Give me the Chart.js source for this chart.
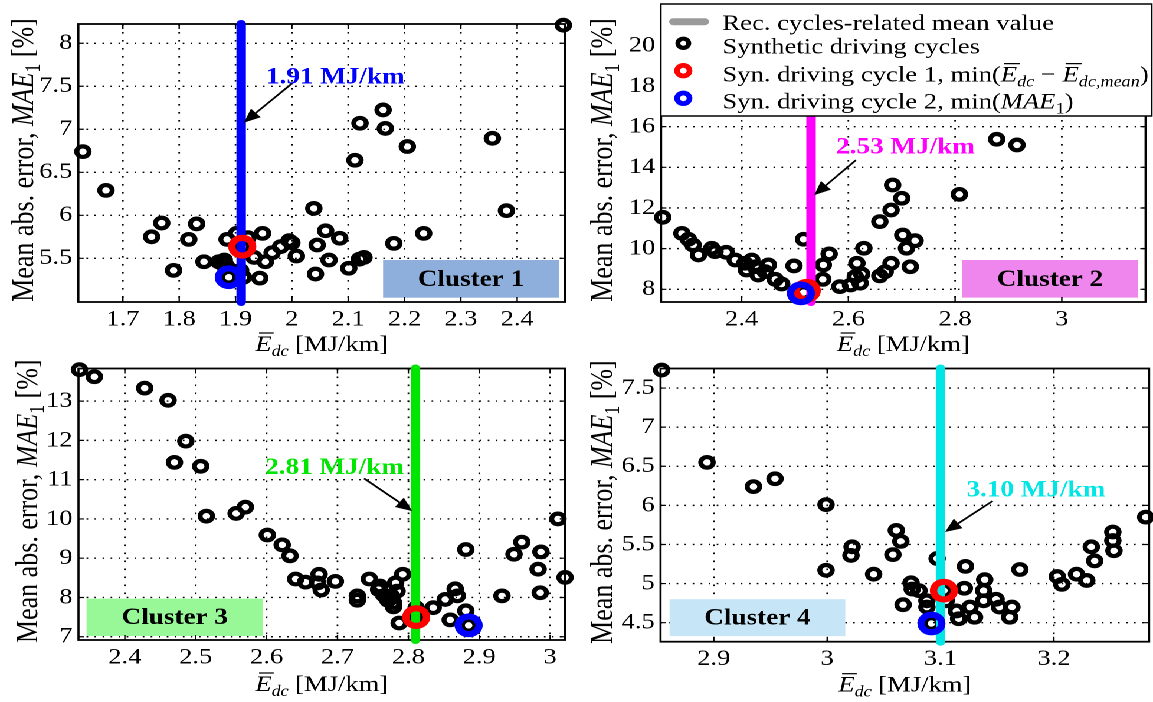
<!DOCTYPE html>
<html><head><meta charset="utf-8">
<script src="https://cdn.jsdelivr.net/npm/chart.js@4.4.0/dist/chart.umd.min.js"></script>
<style>
html,body{margin:0;padding:0;background:#fff;overflow:hidden;width:1153px;height:702px;}
#wrap{position:absolute;left:0;top:0;width:977px;height:702px;transform:scaleX(1.18014);transform-origin:0 0;}
canvas{position:absolute;}
</style></head><body>
<div id="wrap">
<canvas id="c3" width="490" height="352" style="left:0px;top:350px;width:490px;height:352px"></canvas>
<canvas id="c4" width="487" height="352" style="left:490px;top:350px;width:487px;height:352px"></canvas>
<canvas id="c1" width="490" height="362" style="left:0px;top:0px;width:490px;height:362px"></canvas>
<canvas id="c2" width="487" height="362" style="left:490px;top:0px;width:487px;height:362px"></canvas>
</div>
<script>
// ---------------- DATA ----------------
// Cluster 1
const c1X = [1.629,1.670,1.751,1.769,1.790,1.817,1.831,1.844,1.870,1.876,1.880,1.884,1.885,1.888,1.902,1.909,1.912,1.914,1.922,1.933,1.943,1.948,1.953,1.965,1.980,1.995,2.000,2.008,2.039,2.042,2.045,2.060,2.066,2.085,2.101,2.112,2.121,2.120,2.128,2.162,2.166,2.181,2.205,2.234,2.356,2.381,2.482];
const c1Y = [6.74,6.29,5.75,5.91,5.36,5.72,5.90,5.46,5.46,5.44,5.48,5.41,5.72,5.28,5.79,5.36,5.635,5.28,5.74,5.51,5.27,5.79,5.46,5.565,5.635,5.705,5.68,5.527,6.08,5.317,5.655,5.82,5.48,5.733,5.384,6.64,7.07,5.49,5.51,7.225,7.01,5.674,6.80,5.79,6.895,6.054,8.21];
const c1DevX = [1.912], c1DevY = [5.635];
const c1MaeX = [1.888], c1MaeY = [5.28];
const c1Mean = 1.91;
const c1XTicks = [1.7,1.8,1.9,2,2.1,2.2,2.3,2.4];
const c1YTicks = [5.5,6,6.5,7,7.5,8];

// Cluster 2
const c2X = [2.252,2.288,2.300,2.309,2.319,2.344,2.350,2.371,2.388,2.406,2.409,2.419,2.425,2.431,2.444,2.450,2.463,2.475,2.498,2.516,2.516,2.552,2.553,2.564,2.584,2.604,2.613,2.616,2.622,2.625,2.629,2.659,2.669,2.680,2.659,2.680,2.683,2.700,2.702,2.709,2.716,2.725,2.808,2.878,2.916];
const c2Y = [11.54,10.75,10.46,10.18,9.69,10.02,9.85,9.82,9.44,9.28,8.95,9.44,9.11,8.70,8.87,9.20,8.49,8.26,9.15,10.46,7.84,8.49,9.20,9.74,8.13,8.21,8.62,9.28,8.30,8.75,10.02,8.66,8.87,9.28,11.33,11.90,13.13,12.48,10.67,10.02,9.11,10.39,12.67,15.38,15.10];
const c2DevX = [2.522], c2DevY = [7.93];
const c2MaeX = [2.511], c2MaeY = [7.80];
const c2Mean = 2.53;
const c2XTicks = [2.4,2.6,2.8,3];
const c2YTicks = [8,10,12,14,16,18,20];

// Cluster 3
const c3X = [2.336,2.357,2.428,2.461,2.486,2.470,2.507,2.515,2.557,2.570,2.601,2.622,2.633,2.641,2.655,2.672,2.674,2.677,2.697,2.728,2.728,2.745,2.758,2.760,2.766,2.771,2.776,2.779,2.779,2.782,2.784,2.792,2.787,2.811,2.811,2.835,2.852,2.859,2.866,2.869,2.881,2.881,2.885,2.932,2.949,2.960,2.983,2.987,2.986,3.011,3.021];
const c3Y = [13.80,13.62,13.33,13.02,11.98,11.44,11.34,10.07,10.14,10.30,9.59,9.34,9.06,8.47,8.39,8.37,8.59,8.19,8.41,8.04,7.93,8.47,8.20,8.29,8.05,7.93,8.04,7.87,7.76,8.37,8.16,8.59,7.35,7.74,7.50,7.74,7.95,7.43,8.22,8.04,9.22,7.66,7.29,8.04,9.10,9.41,8.72,9.16,8.12,10.00,8.51];
const c3DevX = [2.811], c3DevY = [7.50];
const c3MaeX = [2.885], c3MaeY = [7.29];
const c3Mean = 2.81;
const c3XTicks = [2.4,2.5,2.6,2.7,2.8,2.9,3];
const c3YTicks = [7,8,9,10,11,12,13];

// Cluster 4
const c4X = [2.854,2.894,2.935,2.954,2.999,2.999,3.022,3.021,3.041,3.058,3.061,3.065,3.067,3.074,3.075,3.081,3.088,3.088,3.097,3.103,3.105,3.114,3.116,3.121,3.122,3.126,3.130,3.139,3.138,3.138,3.149,3.152,3.163,3.161,3.170,3.203,3.207,3.220,3.229,3.233,3.236,3.252,3.252,3.253,3.281,3.092];
const c4Y = [7.73,6.55,6.24,6.34,6.01,5.17,5.47,5.36,5.12,5.37,5.68,5.54,4.73,5.01,4.93,4.91,4.78,4.70,5.32,4.91,4.78,4.65,4.55,4.94,5.22,4.70,4.57,5.05,4.91,4.78,4.80,4.70,4.70,4.57,5.18,5.09,4.99,5.12,5.04,5.47,5.29,5.66,5.55,5.42,5.85,4.49];
const c4DevX = [3.103], c4DevY = [4.91];
const c4MaeX = [3.092], c4MaeY = [4.49];
const c4Mean = 3.10;
const c4XTicks = [2.9,3,3.1,3.2];
const c4YTicks = [4.5,5,5.5,6,6.5,7,7.5];

// ---------------- HELPERS ----------------
const FONT = '"Liberation Serif", "Times New Roman", serif';
Chart.defaults.font.family = FONT;
const pts = (xs, ys) => xs.map((x, i) => ({x: x, y: ys[i]}));
const fmt = v => String(+(+v).toFixed(2));

function segFont(s, size) {
  const sz = s.sub ? size * 0.68 : size;
  return (s.it ? 'italic ' : '') + (s.b ? 'bold ' : '') + sz + 'px ' + FONT;
}
function richWidth(ctx, segs, size) {
  let w = 0;
  for (const s of segs) { ctx.font = segFont(s, size); w += ctx.measureText(s.t).width; }
  return w;
}
function drawRich(ctx, segs, x, y, size) {
  let cx = x;
  ctx.textAlign = 'left'; ctx.textBaseline = 'alphabetic';
  for (const s of segs) {
    ctx.font = segFont(s, size);
    const w = ctx.measureText(s.t).width;
    const dy = s.sub ? size * 0.22 : 0;
    ctx.fillText(s.t, cx, y + dy);
    if (s.over) {
      ctx.beginPath(); ctx.lineWidth = size * 0.055;
      ctx.moveTo(cx + size * 0.14, y - size * 0.80);
      ctx.lineTo(cx + w + size * 0.08, y - size * 0.80);
      ctx.stroke();
    }
    cx += w;
  }
}
const xTitle = [{t:'E', it:1, over:1}, {t:'dc', it:1, sub:1}, {t:' [MJ/km]'}];
const yTitle = [{t:'Mean abs. error, '}, {t:'MAE', it:1}, {t:'1', sub:1}, {t:' [%]'}];
const legendRows = [
  [{t:'Rec. cycles-related mean value'}],
  [{t:'Synthetic driving cycles'}],
  [{t:'Syn. driving cycle 1, min('}, {t:'E', it:1, over:1}, {t:'dc', it:1, sub:1}, {t:' \u2212 '}, {t:'E', it:1, over:1}, {t:'dc,mean', it:1, sub:1}, {t:')'}],
  [{t:'Syn. driving cycle 2, min('}, {t:'MAE', it:1}, {t:'1', sub:1}, {t:')'}]
];

function ring(ctx, x, y, r, lw, color) {
  ctx.beginPath(); ctx.arc(x, y, r, 0, Math.PI * 2);
  ctx.lineWidth = lw; ctx.strokeStyle = color; ctx.stroke();
}

function decor(p) {
  return {
    id: 'decor',
    beforeDatasetsDraw(chart) {
      const ctx = chart.ctx, a = chart.chartArea, xs = chart.scales.x, ys = chart.scales.y;
      ctx.save();
      ctx.strokeStyle = '#000'; ctx.lineWidth = 1.4;
      ctx.setLineDash([1.6, 6.4]);
      for (const v of p.xTicks) {
        const px = xs.getPixelForValue(v);
        ctx.beginPath(); ctx.moveTo(px, a.top); ctx.lineTo(px, a.bottom); ctx.stroke();
      }
      ctx.setLineDash([1.4, 5.4]);
      for (const v of p.yTicks) {
        const py = ys.getPixelForValue(v);
        ctx.beginPath(); ctx.moveTo(a.left, py); ctx.lineTo(a.right, py); ctx.stroke();
      }
      ctx.setLineDash([]);
      // cluster box
      const bx0 = xs.getPixelForValue(p.box[0]), bx1 = xs.getPixelForValue(p.box[1]);
      const by0 = ys.getPixelForValue(p.box[3]), by1 = ys.getPixelForValue(p.box[2]);
      ctx.fillStyle = p.boxColor; ctx.fillRect(bx0, by0, bx1 - bx0, by1 - by0);
      ctx.fillStyle = '#000'; ctx.font = 'bold 23px ' + FONT;
      ctx.textAlign = 'center'; ctx.textBaseline = 'middle';
      ctx.fillText(p.cluster, (bx0 + bx1) / 2, (by0 + by1) / 2 + 1);
      // axes box + inward ticks
      ctx.strokeStyle = '#000'; ctx.lineWidth = 1.8;
      ctx.strokeRect(a.left, a.top, a.right - a.left, a.bottom - a.top);
      ctx.lineWidth = 1.2; ctx.beginPath();
      for (const v of p.xTicks) {
        const px = xs.getPixelForValue(v);
        ctx.moveTo(px, a.bottom); ctx.lineTo(px, a.bottom - 5);
        ctx.moveTo(px, a.top); ctx.lineTo(px, a.top + 5);
      }
      for (const v of p.yTicks) {
        const py = ys.getPixelForValue(v);
        ctx.moveTo(a.left, py); ctx.lineTo(a.left + 4.5, py);
        ctx.moveTo(a.right, py); ctx.lineTo(a.right - 4.5, py);
      }
      ctx.stroke();
      ctx.restore();
    },
    afterDatasetsDraw(chart) {
      const ctx = chart.ctx, xs = chart.scales.x, ys = chart.scales.y;
      ctx.save();
      const tx = xs.getPixelForValue(p.arrowFrom[0]), ty = ys.getPixelForValue(p.arrowFrom[1]);
      const hx = xs.getPixelForValue(p.arrowTo[0]), hy = ys.getPixelForValue(p.arrowTo[1]);
      const ang = Math.atan2(hy - ty, hx - tx), L = 14, W = 6;
      const bx = hx - L * Math.cos(ang), by = hy - L * Math.sin(ang);
      ctx.strokeStyle = '#000'; ctx.fillStyle = '#000'; ctx.lineWidth = 1.7;
      ctx.beginPath(); ctx.moveTo(tx, ty); ctx.lineTo(bx, by); ctx.stroke();
      ctx.beginPath(); ctx.moveTo(hx, hy);
      ctx.lineTo(bx - W * Math.sin(ang), by + W * Math.cos(ang));
      ctx.lineTo(bx + W * Math.sin(ang), by - W * Math.cos(ang));
      ctx.closePath(); ctx.fill();
      ctx.fillStyle = p.color; ctx.font = 'bold 23px ' + FONT;
      ctx.textAlign = 'left'; ctx.textBaseline = 'middle';
      ctx.fillText(p.anno, xs.getPixelForValue(p.textAt[0]), ys.getPixelForValue(p.textAt[1]));
      ctx.restore();
    },
    afterDraw(chart) {
      const ctx = chart.ctx, a = chart.chartArea;
      ctx.save();
      ctx.fillStyle = '#000'; ctx.strokeStyle = '#000';
      // x title
      const wx = richWidth(ctx, xTitle, 22.5);
      drawRich(ctx, xTitle, (a.left + a.right) / 2 - wx / 2, a.bottom + p.xTitleDy, 22.5);
      // y title
      const wy = richWidth(ctx, yTitle, 26);
      ctx.translate(a.left - p.yTitleDx, (a.top + a.bottom) / 2 - 3);
      ctx.rotate(-Math.PI / 2);
      drawRich(ctx, yTitle, -wy / 2, 0, 26);
      ctx.restore();
      if (p.legend) {
        ctx.save();
        ctx.fillStyle = '#fff'; ctx.fillRect(69.9, 4, 416, 112);
        ctx.strokeStyle = '#000'; ctx.lineWidth = 1.5; ctx.strokeRect(69.9, 4, 416, 112);
        ctx.strokeStyle = '#9a9a9a'; ctx.lineWidth = 7; ctx.lineCap = 'round';
        ctx.beginPath(); ctx.moveTo(80.5, 21.7); ctx.lineTo(107.3, 21.7); ctx.stroke();
        ring(ctx, 89, 43.3, 4.6, 4.2, '#000');
        ring(ctx, 89, 70.7, 5.3, 4.8, '#ff0000');
        ring(ctx, 89, 98.3, 5.3, 4.8, '#0000ff');
        ctx.fillStyle = '#000'; ctx.strokeStyle = '#000';
        const base = [30, 53.3, 81.7, 108.3];
        legendRows.forEach((r, i) => drawRich(ctx, r, 122.1, base[i], 22.6));
        ctx.restore();
      }
    }
  };
}

function makeChart(p) {
  return new Chart(document.getElementById(p.id), {
    type: 'scatter',
    data: { datasets: [
      {data: pts(p.maeX, p.maeY), pointRadius: 8.8, pointHoverRadius: 8.8, borderWidth: 6.2, pointBorderColor: '#0000ff', borderColor: '#0000ff', backgroundColor: 'rgba(0,0,0,0)', clip: false},
      {data: pts(p.devX, p.devY), pointRadius: 8.8, pointHoverRadius: 8.8, borderWidth: 6.2, pointBorderColor: '#ff0000', borderColor: '#ff0000', backgroundColor: 'rgba(0,0,0,0)', clip: false},
      {type: 'line', data: [{x: p.mean, y: p.yMin}, {x: p.mean, y: p.yMax}], borderColor: p.color, borderWidth: 8, pointRadius: 0, borderCapStyle: 'round', tension: 0, clip: false, fill: false},
      {data: pts(p.xs, p.ys), pointRadius: 5.3, pointHoverRadius: 5.3, borderWidth: 4.2, pointBorderColor: '#000', borderColor: '#000', backgroundColor: 'rgba(0,0,0,0)', clip: false}
    ]},
    options: {
      responsive: false, animation: false, devicePixelRatio: 2, events: [],
      layout: {autoPadding: false, padding: {left: 0, top: p.padTop, right: p.padRight, bottom: 0}},
      plugins: {legend: {display: false}, tooltip: {enabled: false}},
      scales: {
        x: {type: 'linear', min: p.xMin, max: p.xMax,
            grid: {display: false, drawTicks: false}, border: {display: false},
            ticks: {color: '#000', font: {size: 22.5, family: FONT}, padding: 4, autoSkip: false, maxRotation: 0, callback: fmt},
            afterBuildTicks: s => { s.ticks = p.xTicks.map(v => ({value: v})); },
            afterFit: s => { s.height = p.xH; }},
        y: {type: 'linear', min: p.yMin, max: p.yMax,
            grid: {display: false, drawTicks: false}, border: {display: false},
            ticks: {color: '#000', font: {size: 22.5, family: FONT}, padding: 5, autoSkip: false, callback: fmt},
            afterBuildTicks: s => { s.ticks = p.yTicks.map(v => ({value: v})); },
            afterFit: s => { s.width = p.yW; }}
      }
    },
    plugins: [decor(p)]
  });
}

const panels = [
  {id: 'c1', xs: c1X, ys: c1Y, devX: c1DevX, devY: c1DevY, maeX: c1MaeX, maeY: c1MaeY, mean: c1Mean,
   xTicks: c1XTicks, yTicks: c1YTicks, xMin: 1.621, xMax: 2.485, yMin: 4.992, yMax: 8.224,
   color: '#0000ff', anno: '1.91 MJ/km', textAt: [1.954, 7.60], arrowFrom: [2.0007, 7.535], arrowTo: [1.915, 7.077],
   cluster: 'Cluster 1', boxColor: '#8eafdb', box: [2.162, 2.474, 5.042, 5.48],
   yW: 66.4, xH: 60, padTop: 24, padRight: 11.2, xTitleDy: 49, yTitleDx: 38.5},
  {id: 'c2', xs: c2X, ys: c2Y, devX: c2DevX, devY: c2DevY, maeX: c2MaeX, maeY: c2MaeY, mean: c2Mean,
   xTicks: c2XTicks, yTicks: c2YTicks, xMin: 2.249, xMax: 3.157, yMin: 7.375, yMax: 21.05,
   color: '#ff00ff', anno: '2.53 MJ/km', textAt: [2.577, 14.97], arrowFrom: [2.614, 14.35], arrowTo: [2.536, 12.63],
   cluster: 'Cluster 2', boxColor: '#ee86ee', box: [2.813, 3.143, 7.59, 9.44],
   yW: 70.2, xH: 60, padTop: 24, padRight: 6.3, xTitleDy: 49, yTitleDx: 41.6, legend: true},
  {id: 'c3', xs: c3X, ys: c3Y, devX: c3DevX, devY: c3DevY, maeX: c3MaeX, maeY: c3MaeY, mean: c3Mean,
   xTicks: c3XTicks, yTicks: c3YTicks, xMin: 2.3346, xMax: 3.021, yMin: 6.917, yMax: 13.83,
   color: '#00e600', anno: '2.81 MJ/km', textAt: [2.598, 11.30], arrowFrom: [2.7375, 11.03], arrowTo: [2.8055, 10.20],
   cluster: 'Cluster 3', boxColor: '#98f898', box: [2.346, 2.595, 7.02, 7.97],
   yW: 66.5, xH: 62, padTop: 13.3, padRight: 11.2, xTitleDy: 51, yTitleDx: 35},
  {id: 'c4', xs: c4X, ys: c4Y, devX: c4DevX, devY: c4DevY, maeX: c4MaeX, maeY: c4MaeY, mean: c4Mean,
   xTicks: c4XTicks, yTicks: c4YTicks, xMin: 2.853, xMax: 3.284, yMin: 4.257, yMax: 7.75,
   color: '#00e6e6', anno: '3.10 MJ/km', textAt: [3.123, 6.19], arrowFrom: [3.146, 6.056], arrowTo: [3.104, 5.66],
   cluster: 'Cluster 4', boxColor: '#c6e5f6', box: [2.861, 3.016, 4.328, 4.80],
   yW: 69.7, xH: 60.3, padTop: 13.3, padRight: 3.3, xTitleDy: 50, yTitleDx: 41}
];
panels.forEach(makeChart);
</script>
</body></html>
